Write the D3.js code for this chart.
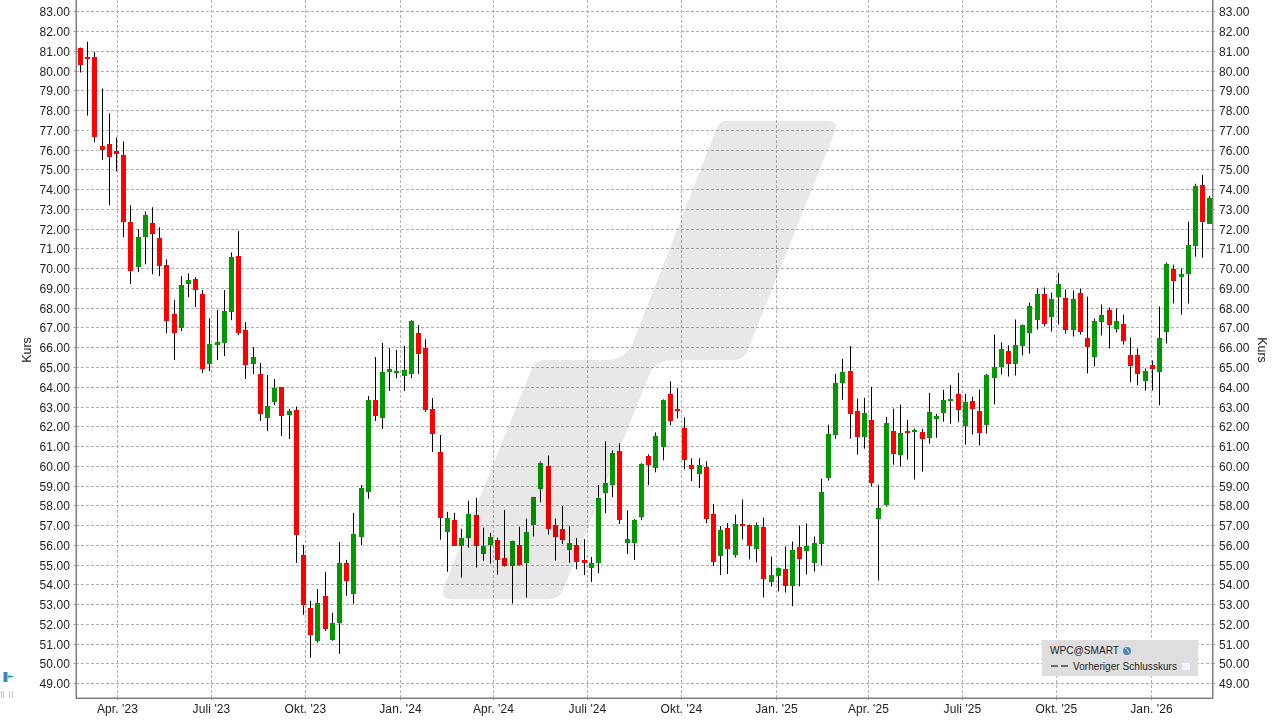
<!DOCTYPE html>
<html><head><meta charset="utf-8">
<script src="https://d3js.org/d3.v7.min.js"></script>
<style>
html,body{margin:0;padding:0;background:#fff}
svg{display:block}
text{font-family:"Liberation Sans",Arial,sans-serif;fill:#222}
</style></head><body>
<svg id="c" width="1279" height="720"></svg>
<script>
const firstWeek = "2023-02-24";
const open = [81.16,80.70,80.70,76.16,76.30,75.92,75.75,72.32,70.05,71.56,
72.27,71.51,70.15,67.67,66.97,69.19,69.44,68.69,65.15,66.11,
66.21,67.77,70.60,66.87,65.15,64.64,62.42,63.23,63.99,62.57,
62.81,55.49,52.82,51.15,53.42,51.20,52.06,55.09,53.52,56.40,
58.68,63.33,62.42,64.74,64.69,64.54,64.64,66.71,65.96,62.88,
60.70,56.66,57.27,55.96,56.36,57.52,55.55,56.00,56.26,55.35,
54.95,56.00,55.10,57.03,58.85,59.97,56.99,56.80,55.73,55.99,
55.23,54.82,55.08,58.61,59.02,60.73,56.09,56.09,57.40,60.48,
59.88,60.94,63.61,62.85,61.90,60.03,59.57,59.93,57.55,55.43,
56.84,55.51,57.08,56.98,55.81,56.88,54.10,54.40,54.80,53.90,
55.87,55.71,55.06,56.02,59.40,61.57,64.20,64.80,62.78,61.47,
62.33,57.33,58.04,61.77,60.56,61.77,61.72,61.72,61.42,62.38,
62.68,63.29,63.64,62.03,63.30,62.79,62.04,64.42,64.98,65.83,
65.13,66.04,66.74,67.40,68.71,67.55,68.56,68.51,66.85,68.76,
66.49,65.53,67.30,67.86,66.90,67.15,65.63,65.63,64.27,65.08,
64.77,66.79,69.98,69.57,69.72,71.14,74.22,72.25];
const close = [80.30,80.60,76.66,76.00,75.65,75.80,72.32,69.85,71.56,72.67,
71.71,70.10,67.32,66.71,69.14,69.39,68.89,64.90,66.16,66.26,
67.82,70.55,66.71,65.10,65.50,62.62,63.03,63.94,62.52,62.77,
56.50,52.97,51.45,53.07,51.75,52.06,55.09,54.18,56.55,58.88,
63.33,62.52,64.74,64.90,64.79,64.85,67.32,65.65,62.82,61.61,
57.37,57.37,55.96,56.36,57.57,55.96,55.96,56.41,55.25,54.95,
56.21,54.98,56.66,58.40,60.12,56.78,56.42,56.24,56.09,55.13,
55.08,55.08,58.36,59.12,60.63,57.25,56.29,57.25,60.08,60.03,
61.49,63.31,62.25,62.75,60.28,59.82,60.03,57.30,55.13,56.74,
55.78,57.08,56.98,55.92,57.03,54.25,54.50,54.85,53.90,55.76,
55.26,55.92,56.07,58.69,61.62,64.20,64.75,62.63,61.47,62.68,
59.15,57.89,62.18,60.61,61.67,61.67,61.82,61.37,62.73,62.53,
63.34,63.39,62.83,63.24,62.85,61.68,64.61,64.98,65.89,65.13,
66.09,67.10,68.11,68.71,67.15,68.46,69.22,66.85,68.46,66.79,
65.99,67.35,67.65,67.10,67.35,66.29,65.03,64.62,64.82,64.88,
66.49,70.23,69.37,69.72,71.19,74.17,72.35,73.56];
const high = [81.16,81.46,80.95,79.09,77.83,76.61,76.41,73.18,71.97,72.87,
73.08,72.07,70.45,68.38,69.59,69.74,69.54,68.89,67.47,67.88,
68.89,70.80,71.87,67.27,66.00,65.20,64.59,64.39,63.99,62.87,
63.00,56.00,53.17,53.77,54.63,52.56,56.15,55.24,57.61,59.03,
63.53,65.50,66.21,65.96,65.86,66.06,67.37,67.12,66.41,63.43,
61.56,57.67,57.62,56.81,58.23,58.38,56.87,56.61,56.36,57.77,
56.21,56.92,57.32,58.43,60.22,60.52,57.33,57.96,56.95,56.34,
56.29,55.38,59.02,61.24,60.78,61.14,57.75,57.30,60.13,60.58,
61.69,63.36,64.27,63.92,62.45,60.38,60.38,60.23,58.06,56.95,
57.10,57.53,58.29,57.03,57.13,57.38,55.41,54.85,55.92,56.17,
56.98,57.08,56.42,59.35,62.08,64.65,65.41,66.07,63.39,63.44,
64.00,59.05,62.48,62.89,63.09,62.33,61.88,61.88,63.69,62.63,
63.85,64.10,64.70,63.64,63.50,63.86,64.65,66.64,66.24,66.09,
67.40,67.15,68.26,68.97,69.02,68.76,69.77,68.92,68.87,68.97,
68.56,67.45,68.16,68.01,67.96,67.65,66.49,65.94,64.93,65.33,
68.06,70.28,70.18,69.98,72.35,74.27,74.72,73.66];
const low = [79.90,77.72,76.36,75.47,73.18,74.90,71.56,69.19,69.80,70.20,
69.69,69.60,66.71,65.35,66.81,68.53,68.03,64.69,64.79,65.35,
65.55,67.37,66.61,64.39,64.64,62.27,61.76,63.08,61.51,61.35,
55.09,52.46,50.29,51.05,51.65,51.15,50.49,53.42,53.02,56.00,
58.33,62.27,61.87,63.78,64.44,63.78,64.44,64.64,62.72,60.70,
56.26,54.64,55.96,54.34,55.86,54.85,55.20,55.05,54.49,54.90,
53.03,54.95,53.33,56.42,58.15,56.52,55.21,56.04,55.08,54.77,
54.47,54.12,54.57,57.60,58.41,57.05,55.53,55.23,57.25,59.02,
59.67,60.28,62.05,62.40,59.82,59.22,58.87,57.10,54.93,54.47,
54.52,55.36,56.27,55.26,55.11,53.34,53.90,53.64,53.59,52.89,
53.90,54.50,54.65,54.96,59.25,61.37,63.34,61.37,60.56,60.87,
58.95,54.20,57.94,60.06,59.96,60.31,59.30,59.70,61.12,61.42,
62.23,62.13,62.23,61.07,61.58,61.03,61.63,63.11,64.62,64.52,
64.57,65.58,65.68,66.90,67.05,66.79,67.15,66.69,66.54,66.64,
64.67,65.03,66.59,65.94,66.74,66.14,64.22,64.07,63.81,63.81,
63.06,66.19,68.21,67.65,68.21,70.58,70.53,72.25];
const tickDates = ["2023-04-01","2023-07-01","2023-10-01","2024-01-01","2024-04-01","2024-07-01","2024-10-01","2025-01-01","2025-04-01","2025-07-01","2025-10-01","2026-01-01"];
const tickLabels = ["Apr. '23","Juli '23","Okt. '23","Jan. '24","Apr. '24","Juli '24","Okt. '24","Jan. '25","Apr. '25","Juli '25","Okt. '25","Jan. '26"];
const priceTicks = d3.range(49,84);

const L=76, R=1212, B=698;
const svg=d3.select("#c");
const dayMs=864e5;
const t0=new Date(firstWeek+"T00:00:00Z");
const dates=open.map((_,i)=>new Date(+t0+i*7*dayMs));
const x=d3.scaleUtc().domain([t0,dates[dates.length-1]]).range([80.5,1209.8]);
const y=d3.scaleLinear().domain([49,83]).range([683.2,11.25]);
const py=v=>Math.round(y(v));
const tickD=tickDates.map(s=>new Date(s+"T00:00:00Z"));

// grid
const grid=svg.append("g").attr("fill","none").attr("stroke","#b0b0b0").attr("stroke-width",1).attr("stroke-dasharray","3,2");
grid.selectAll("line.h").data(priceTicks).join("line").attr("class","h")
  .attr("x1",L).attr("x2",R).attr("y1",d=>py(d)+.5).attr("y2",d=>py(d)+.5);
grid.selectAll("line.v").data(tickD).join("line").attr("class","v")
  .attr("x1",d=>Math.floor(x(d))+.5).attr("x2",d=>Math.floor(x(d))+.5).attr("y1",0).attr("y2",B);

// candles
const idx=d3.range(open.length);
const cg=svg.append("g");
cg.selectAll("line").data(idx).join("line")
  .attr("x1",i=>Math.floor(x(dates[i]))+.5).attr("x2",i=>Math.floor(x(dates[i]))+.5)
  .attr("y1",i=>y(high[i])).attr("y2",i=>y(low[i]))
  .attr("stroke","#000").attr("stroke-width",1);
cg.selectAll("rect").data(idx).join("rect")
  .attr("x",i=>Math.floor(x(dates[i]))-2).attr("width",5)
  .attr("y",i=>py(Math.max(open[i],close[i])))
  .attr("height",i=>Math.max(2,py(Math.min(open[i],close[i]))-py(Math.max(open[i],close[i]))))
  .attr("fill",i=>close[i]>=open[i]?"#009900":"#ff0000");

// watermark logo, multiplied over the candles
svg.append("path")
 .attr("d","M727,120.7 L826,120.7 Q839,120.7 835,131 L747,352 Q743,360 733,360 L676,360 Q657,360 650,373 L563,590 Q559,599.3 548,599.3 L452,599.3 Q440,599.3 443.5,588 L531.5,369 Q535,360 545,360 L606,360 Q624,360 632,345 L716,130 Q719,120.7 727,120.7 Z")
 .attr("fill","#e8e8e8").style("mix-blend-mode","multiply");

// axes
const fmt=d3.format(".2f");
const axL=svg.append("g").attr("transform",`translate(${L},0)`).call(d3.axisLeft(y).tickValues(priceTicks).tickFormat(fmt).tickSize(2).tickPadding(4));
const axR=svg.append("g").attr("transform",`translate(${R+1},0)`).call(d3.axisRight(y).tickValues(priceTicks).tickFormat(fmt).tickSize(2).tickPadding(4));
const axB=svg.append("g").attr("transform",`translate(0,${B})`).call(d3.axisBottom(x).tickValues(tickD).tickFormat((d,i)=>tickLabels[i]).tickSize(2).tickPadding(4));
[axL,axR,axB].forEach(a=>{
  a.select(".domain").remove();
  a.selectAll("line").attr("stroke","#a0a0a0");
  a.selectAll("text").style("font-size","12px").style("letter-spacing","0.1px").attr("fill","#222");
});
axL.selectAll(".tick").attr("transform",d=>`translate(0,${py(d)+.5})`);
axR.selectAll(".tick").attr("transform",d=>`translate(0,${py(d)+.5})`);
axL.selectAll("text").attr("dy","0.375em");
axR.selectAll("text").attr("dy","0.375em");
axB.selectAll(".tick").attr("transform",d=>`translate(${Math.floor(x(d))+.5},0)`);

// frame
const frame=svg.append("g").attr("stroke","#808080").attr("stroke-width",1.5).attr("fill","none");
frame.append("path").attr("d",`M${L+.25},0 V${B+.25} H${R+.75} V0`);

// axis titles
svg.append("text").attr("transform","translate(31,350) rotate(-90)").attr("text-anchor","middle").style("font-size","12.5px").text("Kurs");
svg.append("text").attr("transform","translate(1258,350) rotate(90)").attr("text-anchor","middle").style("font-size","12.5px").text("Kurs");

// legend
const lg=svg.append("g");
lg.append("rect").attr("x",1042).attr("y",640).attr("width",156).attr("height",36).attr("fill","#dedede");
lg.append("text").attr("x",1050).attr("y",654).attr("textLength",69).attr("lengthAdjust","spacingAndGlyphs").style("font-size","11px").text("WPC@SMART");
lg.append("circle").attr("cx",1127).attr("cy",651).attr("r",4).attr("fill","#4f86b5");
lg.append("path").attr("d","M1125,648 q3,1 4,5").attr("stroke","#cfe0ea").attr("fill","none");
lg.append("line").attr("x1",1051).attr("x2",1068).attr("y1",666).attr("y2",666).attr("stroke","#444").attr("stroke-width",1.5).attr("stroke-dasharray","7,3");
lg.append("text").attr("x",1073).attr("y",670).attr("textLength",104).attr("lengthAdjust","spacing").style("font-size","10px").text("Vorheriger Schlusskurs");
lg.append("rect").attr("x",1182).attr("y",663).attr("width",8).attr("height",7).attr("fill","#f2f2fa");

// small tool icon bottom-left
const ic=svg.append("g");
ic.append("rect").attr("x",3.5).attr("y",672).attr("width",4).attr("height",10).attr("fill","#3f86c0");
ic.append("path").attr("d","M13,676.5 H8 M10,674.5 L8,676.5 L10,678.5").attr("stroke","#1aa860").attr("fill","none");
ic.selectAll("rect.g").data([1,3,9,12]).join("rect").attr("class","g").attr("x",d=>d).attr("y",691).attr("width",1).attr("height",7).attr("fill","#c8c8c8");
</script>
</body></html>
